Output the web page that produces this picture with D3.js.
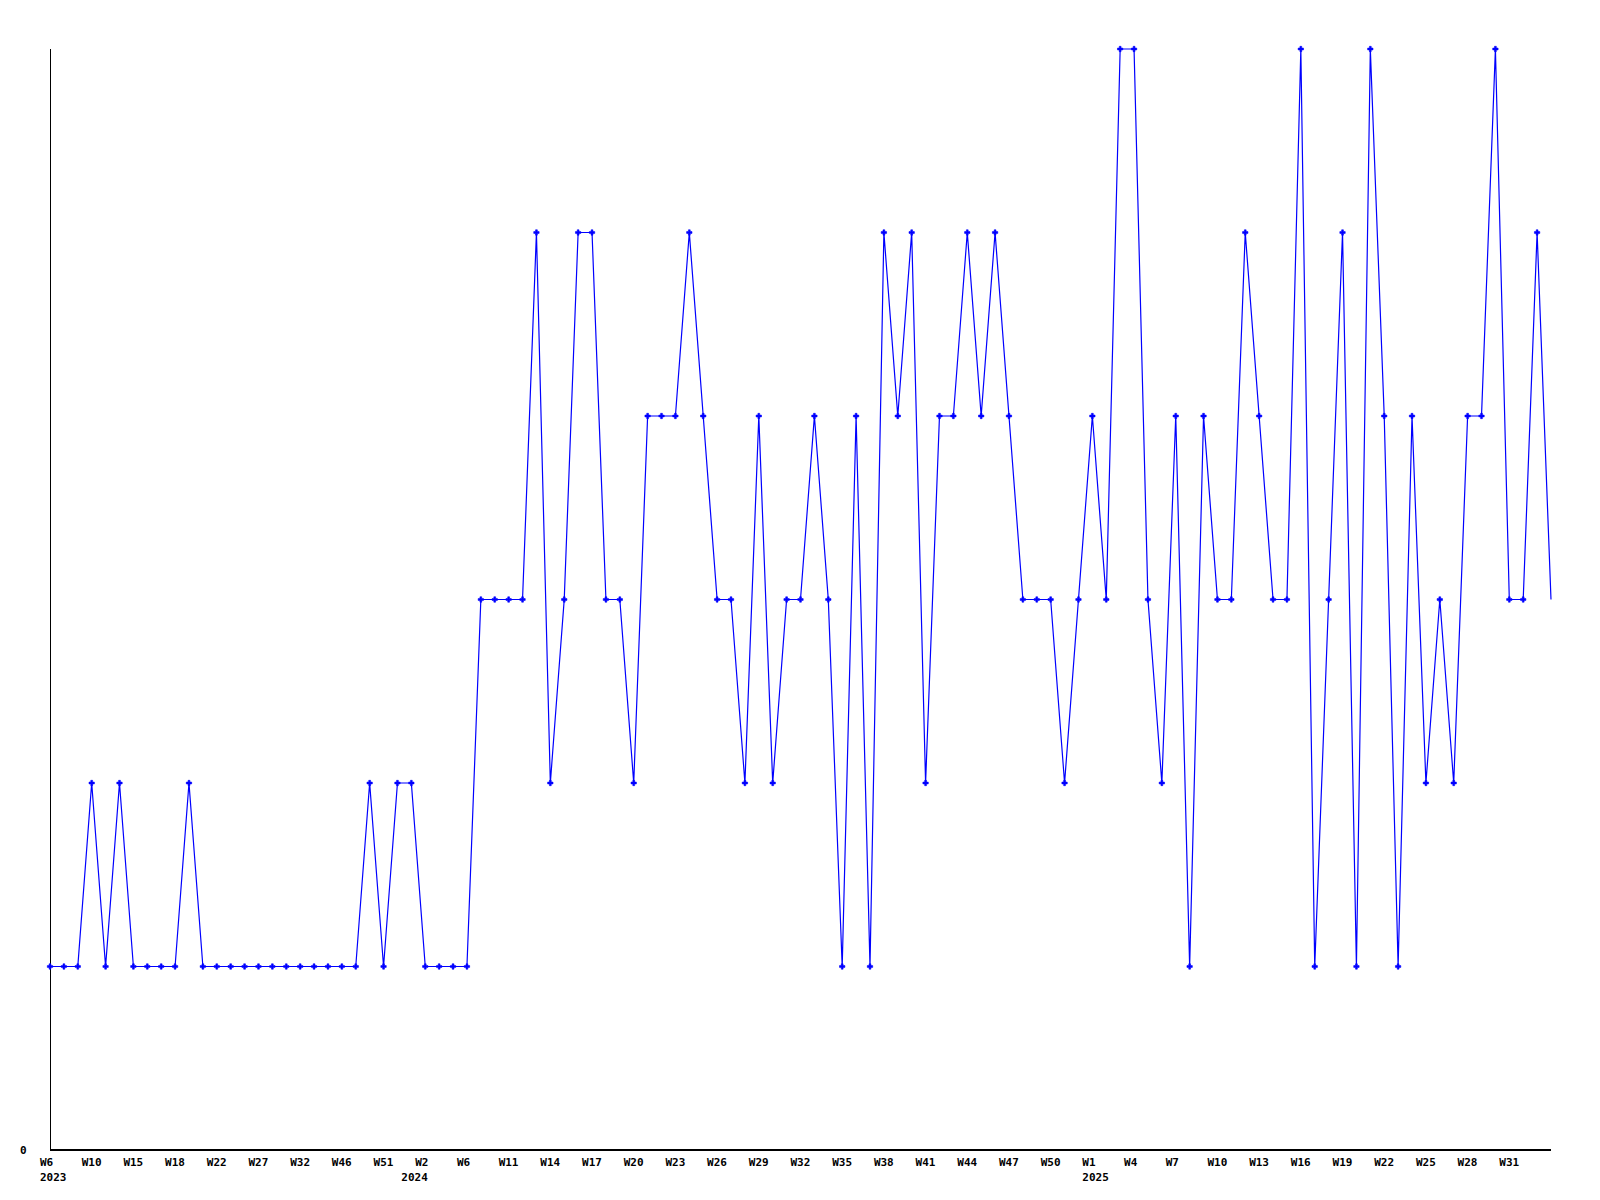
<!DOCTYPE html>
<html>
<head>
<meta charset="utf-8">
<script src="https://cdn.jsdelivr.net/npm/d3@7"></script>
<style>
  html, body { margin: 0; padding: 0; background: #fff; }
  svg { display: block; }
  text { font-family: "DejaVu Sans Mono", "Liberation Mono", monospace; font-weight: bold; font-size: 11px; fill: #000; }
</style>
</head>
<body>
<script>
// Weekly values (one per point, sequential order)
const values = [
  1,1,1,2,1,2,1,1,1,1,
  2,1,1,1,1,1,1,1,1,1,
  1,1,1,2,1,2,2,1,1,1,
  1,3,3,3,3,5,2,3,5,5,
  3,3,2,4,4,4,5,4,3,3,
  2,4,2,3,3,4,3,1,4,1,
  5,4,5,2,4,4,5,4,5,4,
  3,3,3,2,3,4,3,6,6,3,
  2,4,1,4,3,3,5,4,3,3,
  6,1,3,5,1,6,4,1,4,2,
  3,2,4,4,6,3,3,5,3
];
// Tick labels shown every 3rd point
const tickLabels = ["W6","W10","W15","W18","W22","W27","W32","W46","W51","W2","W6","W11",
  "W14","W17","W20","W23","W26","W29","W32","W35","W38","W41","W44","W47","W50","W1",
  "W4","W7","W10","W13","W16","W19","W22","W25","W28","W31"];
const tickStep = 3;
const yearLabels = ["2023","2024","2025"];
const yearPointIndex = [0, 26, 75]; // first point of each year
const yTicks = [0];

const W = 1600, H = 1200;
const svg = d3.select("body").append("svg").attr("width", W).attr("height", H);

const x = d3.scaleLinear().domain([0, values.length - 1]).range([50, 1551]);
const y = d3.scaleLinear().domain([0, 6]).range([1150, 49]);

// axes lines
svg.append("line").attr("x1", 50).attr("x2", 50).attr("y1", 49).attr("y2", 1150)
  .attr("stroke", "#000").attr("stroke-width", 1).attr("shape-rendering", "crispEdges");
svg.append("line").attr("x1", 50).attr("x2", 1551).attr("y1", 1150).attr("y2", 1150)
  .attr("stroke", "#000").attr("stroke-width", 1.5).attr("shape-rendering", "crispEdges");

// y tick labels
svg.selectAll(".ylab").data(yTicks).enter().append("text")
  .attr("x", 20).attr("y", d => y(d) + 4).text(d => d);

// x tick labels
svg.selectAll(".xlab").data(tickLabels).enter().append("text")
  .attr("x", (d, i) => x(i * tickStep) - 10)
  .attr("y", 1166)
  .text(d => d);

svg.selectAll(".yearlab").data(yearLabels).enter().append("text")
  .attr("x", (d, i) => x(yearPointIndex[i]) - 10)
  .attr("y", 1181)
  .text(d => d);

// line
const line = d3.line().x((d, i) => x(i)).y(d => y(d));
svg.append("path").datum(values).attr("d", line)
  .attr("fill", "none").attr("stroke", "#0000ff").attr("stroke-width", 1.2);

// markers (all but last point)
const sym = d3.symbol().type(d3.symbolCross).size(16);
svg.selectAll(".pt").data(values.slice(0, -1)).enter().append("path")
  .attr("d", sym)
  .attr("transform", (d, i) => `translate(${x(i)},${y(d)})`)
  .attr("fill", "#0000ff").attr("stroke", "#0000ff").attr("stroke-width", 0.6);
</script>
</body>
</html>
